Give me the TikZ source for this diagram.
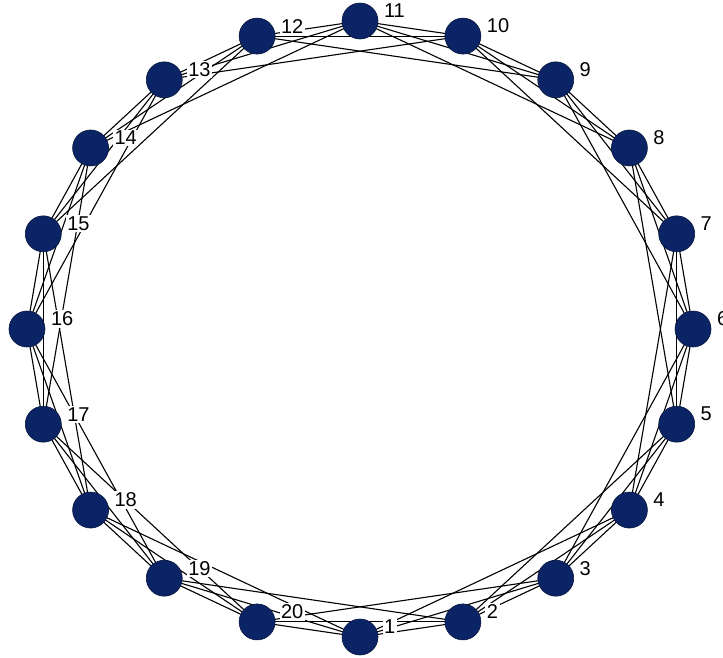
\documentclass[tikz,border=0pt]{standalone}
\usepackage{fontspec}
\setmainfont{Liberation Sans}
\usetikzlibrary{positioning,backgrounds}
\definecolor{Navy}{HTML}{0B2466}

\begin{document}
\begin{tikzpicture}[x=1pt,y=-1pt,
    vertex/.style={circle,fill=Navy,draw=Navy!60!black,line width=0.6pt,
      minimum size=36pt,inner sep=0pt},
    tag/.style={fill=white,inner sep=1.5pt,font=\fontsize{20}{20}\selectfont,
      anchor=west},
    link/.style={line width=1.1pt,black}
  ]
    \useasboundingbox (0,0) rectangle (723,657);
    % ring of 20 vertices, 1 at the bottom, counter-clockwise
    \foreach \i in {1,...,20}
      \node[vertex] (v\i) at ({360+333*cos(270+18*(\i-1))},{329-308*sin(270+18*(\i-1))}) {};
    \foreach \i in {1,...,20}
      \node[tag,right=4pt of v\i.east,yshift=10pt] (l\i) {\i};
    % each vertex joined to its three next neighbours
    \begin{scope}[on background layer]
      \foreach \i in {1,...,20}
        \foreach \d in {1,2,3}{
          \pgfmathtruncatemacro\j{mod(\i+\d-1,20)+1}
          \draw[link] (v\i.center) -- (v\j.center);
        }
    \end{scope}
  \end{tikzpicture}
\end{document}
